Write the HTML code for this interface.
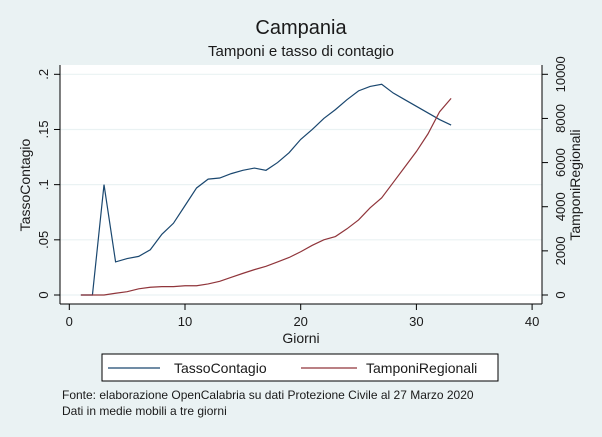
<!DOCTYPE html>
<html><head><meta charset="utf-8"><style>
body{margin:0;background:#eaf2f3;}
svg{display:block;font-family:"Liberation Sans",Arial,sans-serif;}
</style></head><body>
<svg id="chart" width="602" height="437" viewBox="0 0 602 437">
<rect x="0" y="0" width="602" height="437" fill="#eaf2f3"/>
<text x="301" y="34" font-size="20" text-anchor="middle" fill="#1a1a1a">Campania</text>
<text x="301" y="56" font-size="15" text-anchor="middle" fill="#1a1a1a">Tamponi e tasso di contagio</text>
<rect x="60" y="65" width="482" height="239" fill="#ffffff"/>
<g id="grid"></g>
<g id="axes"></g>
<g id="series"></g>
<text transform="translate(30,185) rotate(-90)" font-size="14" text-anchor="middle" fill="#1a1a1a">TassoContagio</text>
<text transform="translate(580,185) rotate(-90)" font-size="14" text-anchor="middle" fill="#1a1a1a">TamponiRegionali</text>
<text x="301" y="343" font-size="14" text-anchor="middle" fill="#1a1a1a">Giorni</text>
<g>
<rect x="102" y="354" width="396" height="27" fill="#ffffff" stroke="#000" stroke-width="1"/>
<line x1="108" y1="368" x2="160" y2="368" stroke="#1a476f" stroke-width="1.2"/>
<text x="174" y="373" font-size="14" fill="#1a1a1a">TassoContagio</text>
<line x1="301" y1="368" x2="357" y2="368" stroke="#90353b" stroke-width="1.2"/>
<text x="366" y="373" font-size="14" fill="#1a1a1a">TamponiRegionali</text>
</g>
<text x="62" y="399" font-size="12" fill="#1a1a1a">Fonte: elaborazione OpenCalabria su dati Protezione Civile al 27 Marzo 2020</text>
<text x="62" y="415" font-size="12" fill="#1a1a1a">Dati in medie mobili a tre giorni</text>
</svg>
<script>
const days = [1,2,3,4,5,6,7,8,9,10,11,12,13,14,15,16,17,18,19,20,21,22,23,24,25,26,27,28,29,30,31,32,33];
const tassoContagio = [0,0,0.1,0.03,0.033,0.035,0.041,0.055,0.065,0.081,0.097,0.105,0.106,0.11,0.113,0.115,0.113,0.12,0.129,0.141,0.15,0.16,0.168,0.177,0.185,0.189,0.191,0.183,0.177,0.171,0.165,0.159,0.154];
const tamponiRegionali = [0,0,0,80,150,280,350,380,380,420,420,500,620,800,980,1150,1300,1500,1700,1960,2250,2500,2650,3000,3400,3950,4400,5100,5800,6500,7300,8300,8910];
const xTicks = [0,10,20,30,40];
const yLeftTicks = [0,0.05,0.1,0.15,0.2];
const yLeftLabels = ["0",".05",".1",".15",".2"];
const yRightTicks = [0,2000,4000,6000,8000,10000];

const NS="http://www.w3.org/2000/svg";
const X0=69.3, XS=11.57, Y0=295, LH=220.7;
const xs=v=>X0+v*XS;
const yl=v=>Y0-v/0.2*LH;
const yr=v=>Y0-v/10000*LH;
function mk(tag,attrs,parent,txt){const e=document.createElementNS(NS,tag);for(const k in attrs)e.setAttribute(k,attrs[k]);if(txt!==undefined)e.textContent=txt;parent.appendChild(e);return e;}
const grid=document.getElementById('grid'), axes=document.getElementById('axes'), series=document.getElementById('series');
yLeftTicks.forEach((t,i)=>{
  const g=mk('line',{x1:60,x2:542,y1:yl(t),y2:yl(t),stroke:'#eaf2f3','stroke-width':1.2},grid);
  
  
  const tk=mk('line',{x1:54,x2:60,y1:yl(t),y2:yl(t),stroke:'#000'},axes);
  
  
  const lb=mk('text',{transform:`translate(48,${yl(t)}) rotate(-90)`,'font-size':13,'text-anchor':'middle',fill:'#1a1a1a'},axes,yLeftLabels[i]);
  
  
});
yRightTicks.forEach(t=>{
  const tk=mk('line',{x1:542,x2:548,y1:yr(t),y2:yr(t),stroke:'#000'},axes);
  
  
  const lb=mk('text',{transform:`translate(565,${yr(t)}) rotate(-90)`,'font-size':13,'text-anchor':'middle',fill:'#1a1a1a'},axes,String(t));
  
  
});
xTicks.forEach(t=>{
  const tk=mk('line',{x1:xs(t),x2:xs(t),y1:304,y2:310,stroke:'#000'},axes);
  
  
  const lb=mk('text',{x:xs(t),y:326,'font-size':13,'text-anchor':'middle',fill:'#1a1a1a'},axes,String(t));
  
  
});
const al=mk('line',{x1:60,x2:60,y1:65,y2:304,stroke:'#000'},axes);


const ar=mk('line',{x1:542,x2:542,y1:65,y2:304,stroke:'#000'},axes);


const ax=mk('line',{x1:60,x2:542,y1:304,y2:304,stroke:'#000'},axes);


const p1=mk('polyline',{points:days.map((d,i)=>xs(d)+','+yl(tassoContagio[i])).join(' '),fill:'none',stroke:'#1a476f','stroke-width':1.2},series);


const p2=mk('polyline',{points:days.map((d,i)=>xs(d)+','+yr(tamponiRegionali[i])).join(' '),fill:'none',stroke:'#90353b','stroke-width':1.2},series);


</script>
</body></html>
